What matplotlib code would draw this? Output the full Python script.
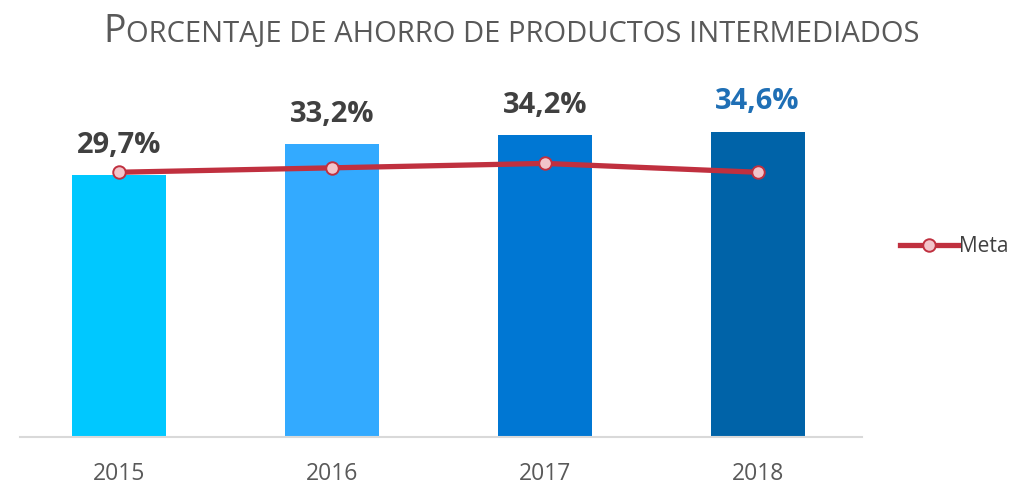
import numpy as np
import matplotlib.pyplot as plt
import matplotlib as mpl

mpl.rcParams['font.family'] = ['Open Sans', 'DejaVu Sans']

years = ['2015', '2016', '2017', '2018']
ahorro = [29.7, 33.2, 34.2, 34.6]
meta = [30.0, 30.5, 31.0, 30.0]
labels = ['29,7%', '33,2%', '34,2%', '34,6%']

bar_colors = ['#00C8FF', '#33AAFF', '#0077D3', '#0063A8']
label_colors = ['#404040', '#404040', '#404040', '#1F6FB5']

fig = plt.figure(figsize=(10.17, 4.87), dpi=100)
ax = fig.add_axes([20/1017, 50/487, 842/1017, 353/487])

x = np.arange(len(years))
bars = ax.bar(x, ahorro, width=0.44, color=bar_colors, zorder=2)

for b, lab, c in zip(bars, labels, label_colors):
    ax.annotate(lab, (b.get_x() + b.get_width()/2, b.get_height()),
                xytext=(0, 11), textcoords='offset points',
                ha='center', va='bottom', fontsize=21, fontweight='bold', color=c)

ax.plot(x, meta, color='#C0303F', lw=3.8, marker='o', markersize=9,
        markerfacecolor='#F2C4CA', markeredgecolor='#C0303F', markeredgewidth=1.4,
        label='Meta', zorder=3)

ax.set_xlim(-0.465, 3.49)
ax.set_ylim(0, 40)
ax.set_xticks(x)
ax.set_xticklabels(years, fontsize=16.5, color='#595959')
ax.tick_params(axis='x', length=0, pad=18)
ax.set_yticks([])
for s in ['top', 'right', 'left']:
    ax.spines[s].set_visible(False)
ax.spines['bottom'].set_color('#D9D9D9')
ax.spines['bottom'].set_linewidth(1.5)

leg = ax.legend(loc='center left', bbox_to_anchor=(900/1017, 1 - 247/487),
                bbox_transform=fig.transFigure, frameon=False, fontsize=15,
                handlelength=2.8, handletextpad=0.05, borderaxespad=0, borderpad=0)
for t in leg.get_texts():
    t.set_color('#404040')

# small-caps style title: big first letter, smaller capitals for the rest
title_color = '#595959'
t1 = fig.text(103/1017, 1 - 42/487, 'P', fontsize=27, color=title_color, va='baseline')
fig.canvas.draw()
r = fig.canvas.get_renderer()
bb = t1.get_window_extent(r)
fig.text(bb.x1/1017 + 1/1017, 1 - 42/487, 'ORCENTAJE DE AHORRO DE PRODUCTOS INTERMEDIADOS',
         fontsize=21, color=title_color, va='baseline')

fig.savefig('out.png', dpi=100)
